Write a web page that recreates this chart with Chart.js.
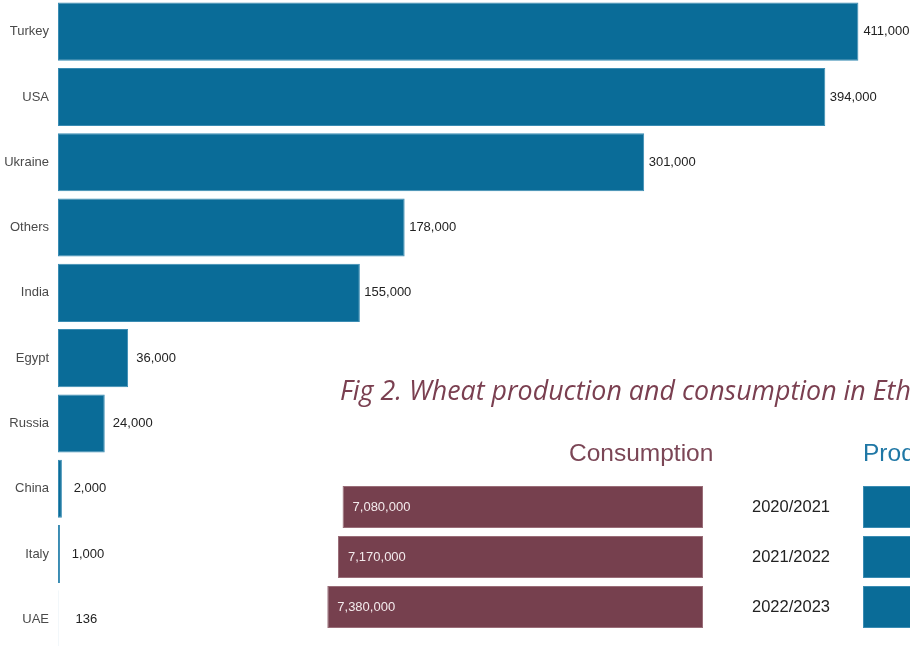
<!DOCTYPE html>
<html>
<head>
<meta charset="utf-8">
<title>Wheat imports and Ethiopia production / consumption</title>
<script src="https://cdn.jsdelivr.net/npm/chart.js@4.4.1/dist/chart.umd.min.js"></script>
<style>
  html, body { margin: 0; padding: 0; background: #fff; }
  body { width: 910px; height: 646px; overflow: hidden; position: relative; }
  .box { position: absolute; }
  #figTitle {
    position: absolute; left: 340px; top: 377px; white-space: nowrap;
    font-family: "Open Sans", sans-serif; font-style: italic; font-size: 26.6px;
    line-height: 1; color: #7a3f50; transform-origin: 0 0;
  }
  .head {
    position: absolute; top: 441px; white-space: nowrap;
    font-family: "Liberation Sans", Arial, sans-serif; font-size: 24.5px; line-height: 1;
  }
</style>
</head>
<body>
<div class="box" style="left:0;top:-1px;width:910px;height:653px"><canvas id="importChart"></canvas></div>

<div id="figTitle"><span id="titleHead">Fig 2. Wheat production and consumption in Eth</span>iopia</div>
<div class="head" style="left:569px;color:#7b4656">Consumption</div>
<div class="head" style="left:863px;color:#1f77a5">Production</div>

<div class="box" style="left:311px;top:482px;width:392px;height:150px"><canvas id="consChart"></canvas></div>
<div class="box" style="left:740px;top:482px;width:515px;height:150px"><canvas id="prodChart"></canvas></div>

<script>
Chart.defaults.font.family = "'Liberation Sans', Arial, sans-serif";
Chart.defaults.animation = false;

// Fig 1: wheat imports by origin
const countries = ["Turkey", "USA", "Ukraine", "Others", "India", "Egypt", "Russia", "China", "Italy", "UAE"];
const imports = [411000, 394000, 301000, 178000, 155000, 36000, 24000, 2000, 1000, 136];

// Fig 2: Ethiopia production vs consumption
const seasons = ["2020/2021", "2021/2022", "2022/2023"];
const consumption = [7080000, 7170000, 7380000];
const production = [5200000, 5400000, 5700000]; // cut off in the picture, estimated

const BLUE = "#0a6c98";
const MAROON = "#76404e";

// draws the number next to / inside each bar
const valueLabels = {
  id: "valueLabels",
  afterDatasetsDraw(chart, args, opts) {
    const ctx = chart.ctx;
    chart.data.datasets.forEach((ds, di) => {
      chart.getDatasetMeta(di).data.forEach((bar, i) => {
        const txt = ds.data[i].toLocaleString("en-US");
        const lo = Math.min(bar.x, bar.base), hi = Math.max(bar.x, bar.base);
        ctx.save();
        ctx.font = opts.font;
        ctx.fillStyle = opts.color;
        ctx.textBaseline = "middle";
        let x;
        if (opts.mode === "outsideCenter") { ctx.textAlign = "center"; x = hi + opts.offset; }
        else if (opts.mode === "insideStart") { ctx.textAlign = "left"; x = lo + opts.offset; }
        else { ctx.textAlign = "right"; x = hi - opts.offset; }
        ctx.fillText(txt, x, bar.y);
        ctx.restore();
      });
    });
  }
};

// fixed label column; drop the half-label + padding that Chart.js adds above/below
function fixedAxis(width) {
  return function (s) {
    s.width = width;
    s.paddingTop = 0;
    s.paddingBottom = 0;
  };
}

new Chart(document.getElementById("importChart"), {
  type: "bar",
  data: {
    labels: countries,
    datasets: [{
      data: imports,
      backgroundColor: BLUE,
      borderColor: "#3a8cb3",
      borderWidth: 1,
      borderSkipped: false,
      barPercentage: 0.89,
      categoryPercentage: 1.0,
    }],
  },
  options: {
    indexAxis: "y",
    responsive: true,
    maintainAspectRatio: false,
    layout: { padding: 0 },
    scales: {
      x: { display: false, min: 0, max: 437500 },
      y: {
        grid: { display: false, drawTicks: false },
        border: { display: false },
        ticks: { color: "#4a4a4a", font: { size: 13 }, padding: 9 },
        afterFit: fixedAxis(58),
      },
    },
    plugins: {
      legend: { display: false },
      tooltip: { enabled: false },
      valueLabels: { mode: "outsideCenter", offset: 28, font: "13px 'Liberation Sans', Arial", color: "#222" },
    },
  },
  plugins: [valueLabels],
});

new Chart(document.getElementById("consChart"), {
  type: "bar",
  data: {
    labels: seasons,
    datasets: [{
      data: consumption,
      backgroundColor: MAROON,
      borderColor: "#9a6d78",
      borderWidth: 1,
      borderSkipped: false,
      barPercentage: 0.84,
      categoryPercentage: 1.0,
    }],
  },
  options: {
    indexAxis: "y",
    responsive: true,
    maintainAspectRatio: false,
    layout: { padding: 0 },
    scales: {
      x: { display: false, min: 0, max: 7700000, reverse: true },
      y: { display: false },
    },
    plugins: {
      legend: { display: false },
      tooltip: { enabled: false },
      valueLabels: { mode: "insideStart", offset: 10, font: "13px 'Liberation Sans', Arial", color: "#f3eaec" },
    },
  },
  plugins: [valueLabels],
});

new Chart(document.getElementById("prodChart"), {
  type: "bar",
  data: {
    labels: seasons,
    datasets: [{
      data: production,
      backgroundColor: BLUE,
      borderColor: "#3a8cb3",
      borderWidth: 1,
      borderSkipped: false,
      barPercentage: 0.84,
      categoryPercentage: 1.0,
    }],
  },
  options: {
    indexAxis: "y",
    responsive: true,
    maintainAspectRatio: false,
    layout: { padding: 0 },
    scales: {
      x: { display: false, min: 0, max: 7700000 },
      y: {
        grid: { display: false, drawTicks: false },
        border: { display: false },
        ticks: { color: "#222", font: { size: 16.5 }, padding: 33 },
        afterFit: fixedAxis(123),
      },
    },
    plugins: {
      legend: { display: false },
      tooltip: { enabled: false },
      valueLabels: { mode: "insideEnd", offset: 10, font: "13px 'Liberation Sans', Arial", color: "#eef4f8" },
    },
  },
  plugins: [valueLabels],
});

// squeeze the title so "…in Eth" ends at the right edge, as in the source figure
const head = document.getElementById("titleHead");
const w = head.getBoundingClientRect().width;
document.getElementById("figTitle").style.transform = `scaleX(${(571 / w).toFixed(3)})`;
</script>
</body>
</html>
